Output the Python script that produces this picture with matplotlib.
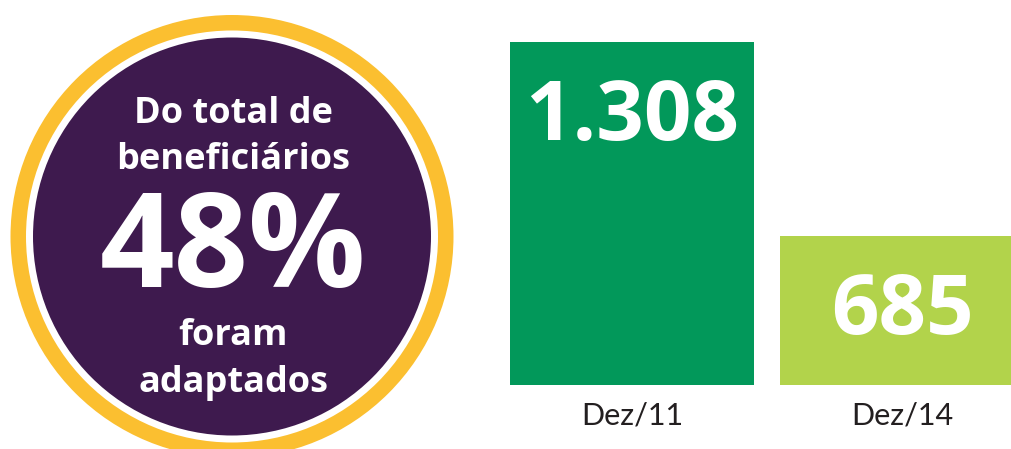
import matplotlib
matplotlib.use("Agg")
import matplotlib.pyplot as plt
from matplotlib.patches import Circle

# ---- data ----
categories = ["Dez/11", "Dez/14"]
values = [1308, 685]
value_labels = ["1.308", "685"]
bar_colors = ["#02985A", "#B2D34B"]
circle_lines = ["Do total de", "beneficiários", "48%", "foram", "adaptados"]

W, H = 1011, 449
fig = plt.figure(figsize=(W / 100, H / 100), dpi=100)
fig.patch.set_facecolor("white")

# ---- left badge (pixel coordinates) ----
ax0 = fig.add_axes([0, 0, 1, 1])
ax0.set_xlim(0, W)
ax0.set_ylim(H, 0)
ax0.axis("off")
cx, cy = 232, 236.5
ax0.add_patch(Circle((cx, cy), 221.5, color="#FBBF30", lw=0))
ax0.add_patch(Circle((cx, cy), 206, color="white", lw=0))
ax0.add_patch(Circle((cx, cy), 199, color="#3E1A4E", lw=0))

font = "Open Sans"
line_specs = [(123, 26), (169, 26), (287, 94), (345, 26), (392, 26)]
for txt, (base, size) in zip(circle_lines, line_specs):
    ax0.text(cx + 1, base, txt, color="white", fontsize=size, fontweight="bold",
             family=font, ha="center", va="baseline")

# ---- bars ----
left_px, right_px = 470, 1064
bottom_px, top_px = 385, 0
ax = fig.add_axes([left_px / W, (H - bottom_px) / H,
                   (right_px - left_px) / W, (bottom_px - top_px) / H])
ax.set_xlim(-0.6, 1.6)
ax.set_ylim(206.5, 1443)
x = list(range(len(values)))
ax.bar(x, values, width=0.904, color=bar_colors, bottom=0, lw=0)
ax.axis("off")

for xi, v, lab in zip(x, values, value_labels):
    ax.annotate(lab, (xi, v), xytext=(0, -98 * 0.72), textcoords="offset points",
                ha="center", va="baseline", color="white", fontsize=60,
                fontweight="bold", family=font)
    ax.annotate(categories[xi], (xi, 206.5), xytext=(0, -40 * 0.72),
                textcoords="offset points", ha="center", va="baseline",
                color="#231F20", fontsize=22, family="Lato",
                annotation_clip=False)

fig.savefig("out.png", dpi=100, facecolor="white")
